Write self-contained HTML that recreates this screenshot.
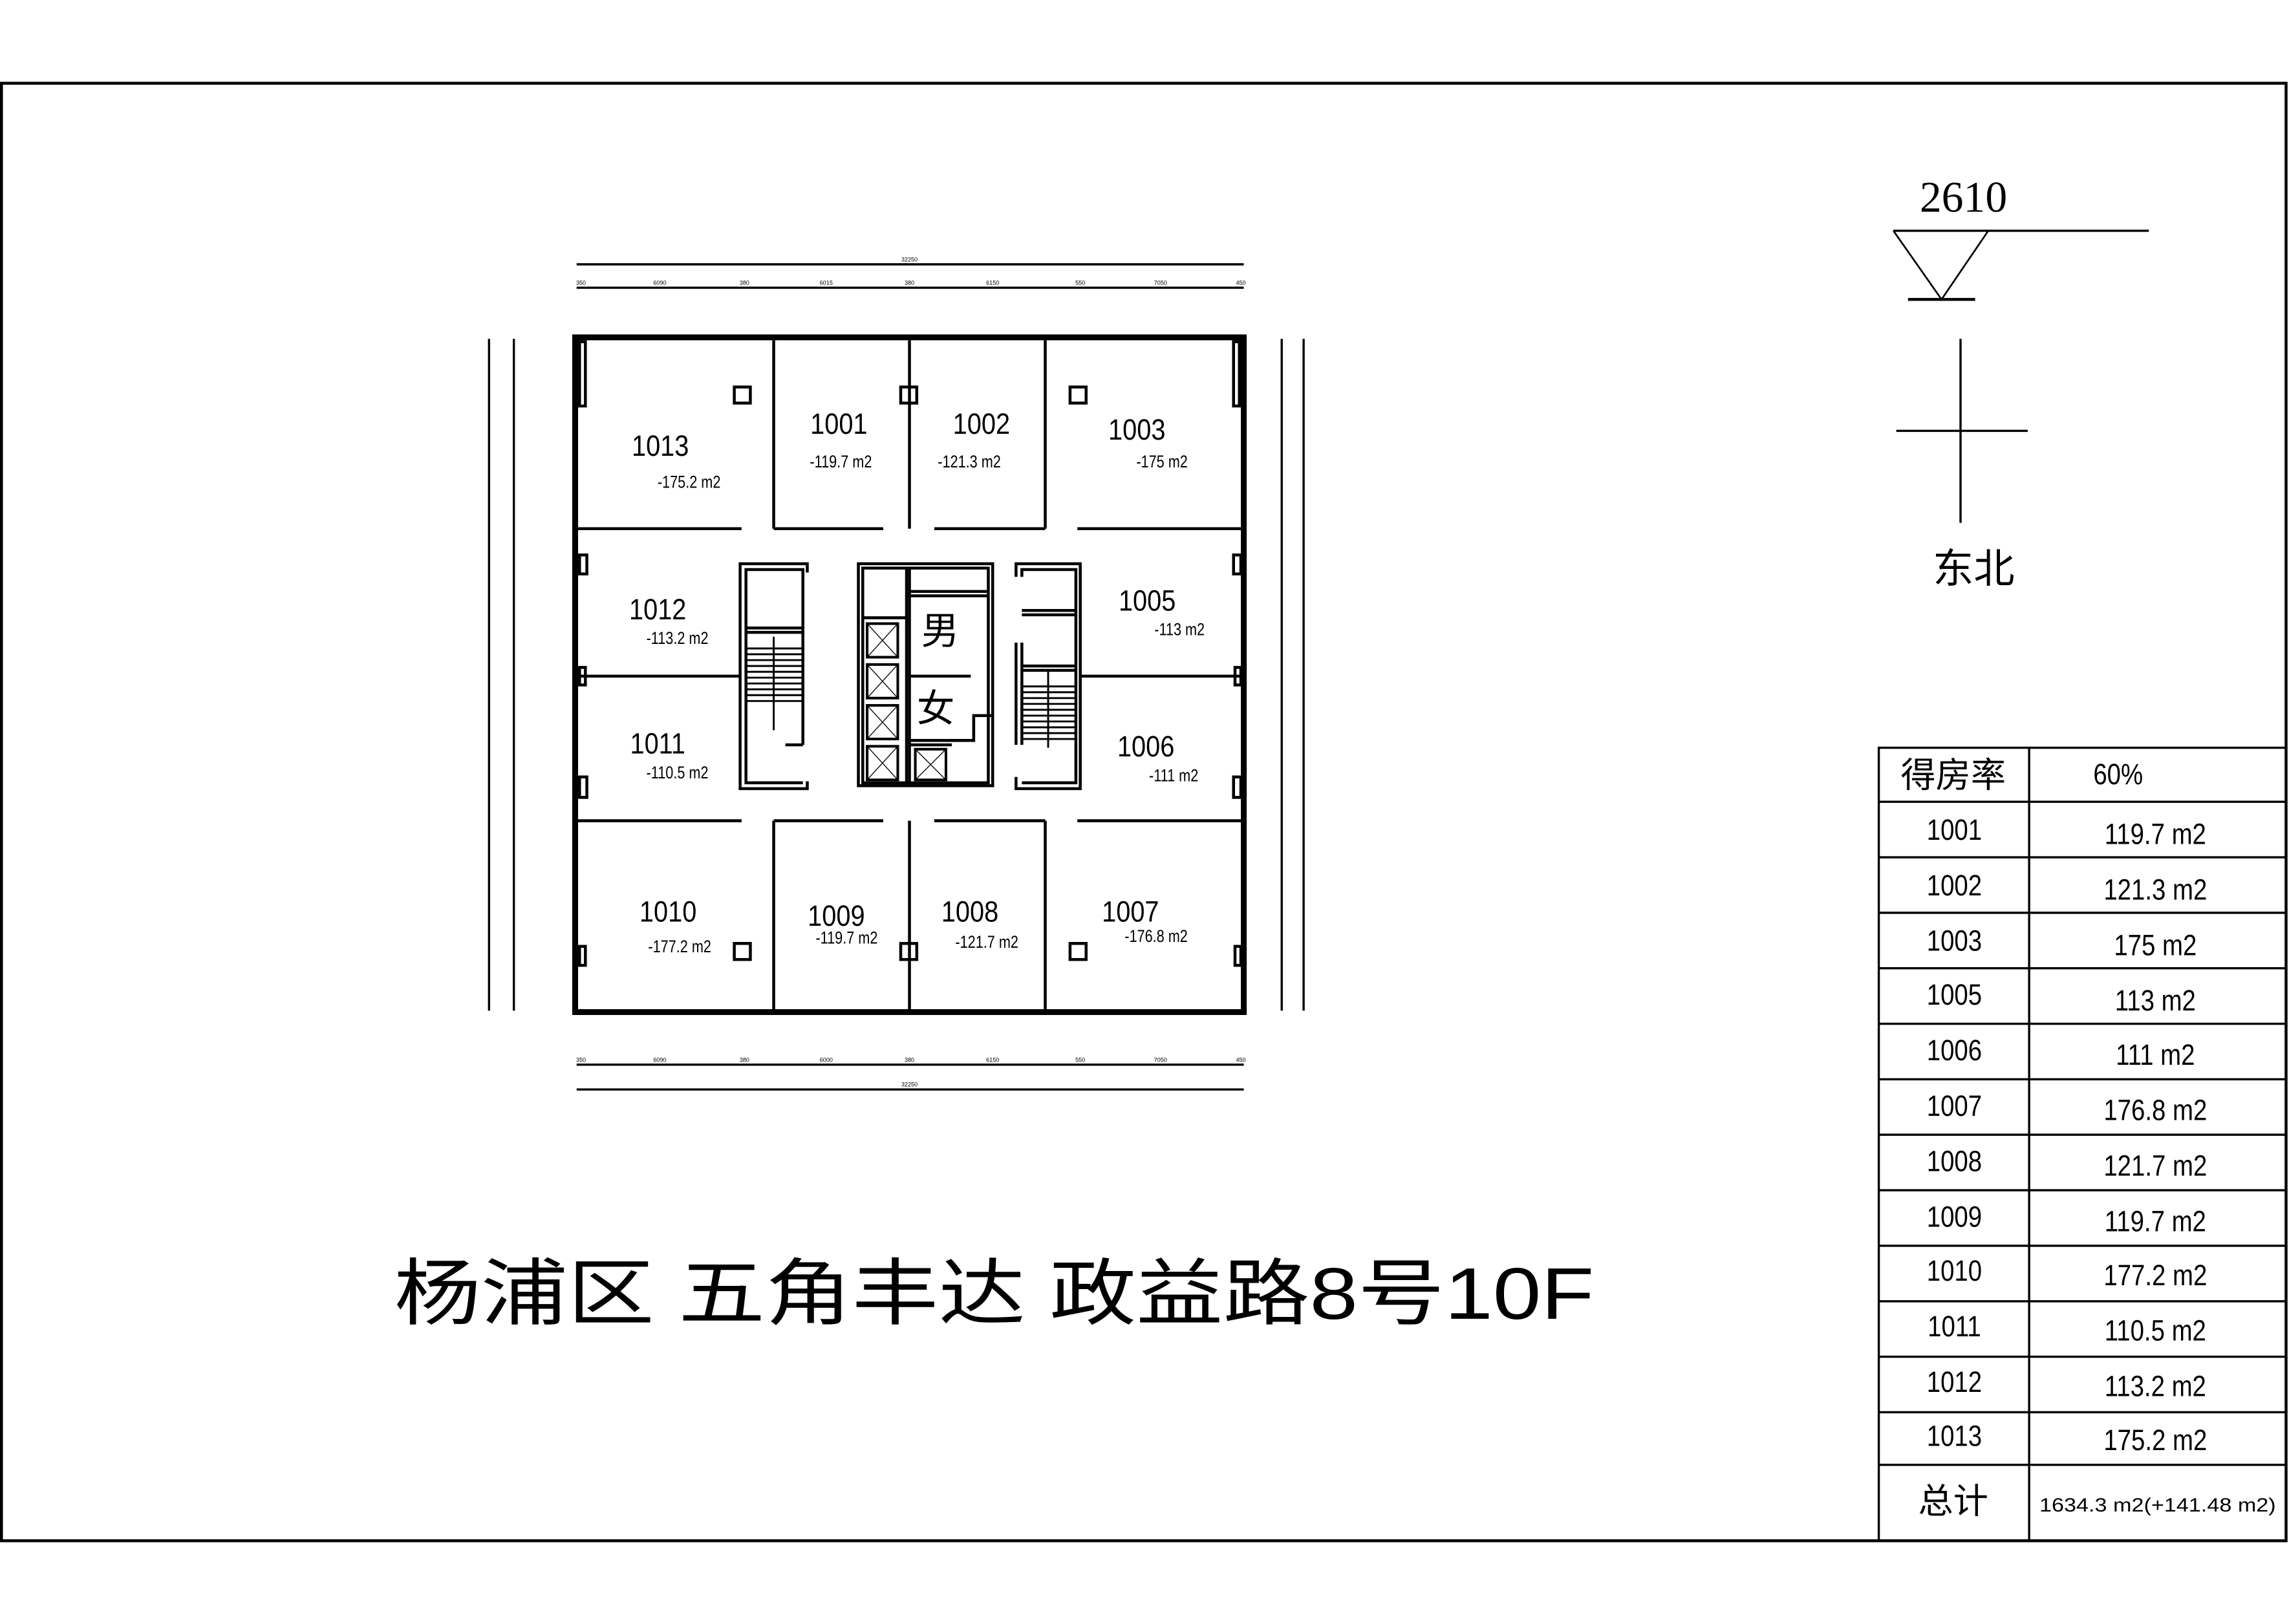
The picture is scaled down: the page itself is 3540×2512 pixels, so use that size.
<!DOCTYPE html>
<html><head><meta charset="utf-8"><style>
html,body{margin:0;padding:0;background:#fff;}
svg{display:block;}
text{font-family:"Liberation Sans","Noto Sans CJK SC",sans-serif;fill:#000;}
</style></head><body>
<svg width="3540" height="2512" viewBox="0 0 1568 1112" preserveAspectRatio="none" xmlns="http://www.w3.org/2000/svg">
<rect x="0" y="0" width="1568" height="1112" fill="#fff"/>
<!-- frame -->
<rect x="1" y="57" width="1565" height="998" fill="none" stroke="#000" stroke-width="2"/>

<!-- dimension lines -->
<g stroke="#000" fill="none">
<line x1="395" y1="181" x2="852" y2="181" stroke-width="1.5"/>
<line x1="395" y1="197" x2="852" y2="197" stroke-width="1.5"/>
<line x1="395" y1="729" x2="852" y2="729" stroke-width="1.5"/>
<line x1="395" y1="746" x2="852" y2="746" stroke-width="1.5"/>
<line x1="335" y1="232" x2="335" y2="692" stroke-width="1.5"/>
<line x1="352" y1="232" x2="352" y2="692" stroke-width="1.5"/>
<line x1="878" y1="232" x2="878" y2="692" stroke-width="1.5"/>
<line x1="893" y1="232" x2="893" y2="692" stroke-width="1.5"/>
</g>
<g font-size="4" text-anchor="middle">
<text x="623" y="179">32250</text><text x="623" y="744">32250</text>
<text x="398" y="195">350</text><text x="452" y="195">6090</text><text x="510" y="195">380</text><text x="566" y="195">6015</text><text x="623" y="195">380</text><text x="680" y="195">6150</text><text x="740" y="195">550</text><text x="795" y="195">7050</text><text x="850" y="195">450</text>
<text x="398" y="727">350</text><text x="452" y="727">6090</text><text x="510" y="727">380</text><text x="566" y="727">6000</text><text x="623" y="727">380</text><text x="680" y="727">6150</text><text x="740" y="727">550</text><text x="795" y="727">7050</text><text x="850" y="727">450</text>
</g>

<!-- floor plan outer -->
<rect x="394" y="231" width="458" height="462" fill="none" stroke="#000" stroke-width="4"/>
<g stroke="#000" stroke-width="2" fill="none">
<!-- window strips -->
<rect x="397" y="234" width="4" height="44"/>
<rect x="845" y="234" width="4" height="44"/>
<!-- top partitions -->
<line x1="530" y1="233" x2="530" y2="362"/>
<line x1="623" y1="233" x2="623" y2="362"/>
<line x1="716" y1="233" x2="716" y2="362"/>
<line x1="396" y1="362" x2="508" y2="362"/>
<line x1="530" y1="362" x2="605" y2="362"/>
<line x1="640" y1="362" x2="716" y2="362"/>
<line x1="738" y1="362" x2="850" y2="362"/>
<!-- bottom partitions -->
<line x1="530" y1="562" x2="530" y2="691"/>
<line x1="623" y1="562" x2="623" y2="691"/>
<line x1="716" y1="562" x2="716" y2="691"/>
<line x1="396" y1="562" x2="508" y2="562"/>
<line x1="530" y1="562" x2="605" y2="562"/>
<line x1="640" y1="562" x2="716" y2="562"/>
<line x1="738" y1="562" x2="850" y2="562"/>
<!-- middle walls -->
<line x1="396" y1="463" x2="507" y2="463"/>
<line x1="740" y1="463" x2="850" y2="463"/>
<!-- columns -->
<rect x="503" y="265" width="11" height="11"/>
<rect x="617" y="265" width="11" height="11"/>
<rect x="733" y="265" width="11" height="11"/>
<rect x="503" y="646" width="11" height="11"/>
<rect x="617" y="646" width="11" height="11"/>
<rect x="733" y="646" width="11" height="11"/>
<rect x="397" y="380" width="5" height="13"/>
<rect x="397" y="457" width="4" height="12"/>
<rect x="397" y="532" width="5" height="14"/>
<rect x="397" y="648" width="4" height="13"/>
<rect x="845" y="380" width="5" height="13"/>
<rect x="846" y="457" width="4" height="12"/>
<rect x="845" y="532" width="5" height="14"/>
<rect x="846" y="648" width="4" height="13"/>
<!-- left stair -->
<polyline points="553,392 553,386 507,386 507,540 553,540 553,535"/>
<polyline points="550,510 550,390 511,390 511,536 550,536"/>
<line x1="511" y1="433" x2="550" y2="433"/>
<line x1="511" y1="430" x2="550" y2="430"/>
<line x1="538" y1="510" x2="550" y2="510"/>
<!-- core -->
<rect x="588" y="386" width="92" height="152"/>
<rect x="591" y="389" width="86" height="147"/>
<line x1="621" y1="389" x2="621" y2="536"/>
<line x1="623" y1="389" x2="623" y2="536"/>
<line x1="623" y1="405" x2="677" y2="405"/>
<line x1="623" y1="408" x2="677" y2="408"/>
<line x1="591" y1="423" x2="621" y2="423"/>
<line x1="623" y1="463" x2="665" y2="463"/>
<polyline points="623,507 667,507 667,490 680,490"/>
<line x1="623" y1="510" x2="652" y2="510"/>
<!-- right stair -->
<polyline points="696,395 696,386 740,386 740,540 696,540 696,532"/>
<polyline points="700,395 700,390 737,390 737,536 700,536"/>
<line x1="700" y1="418" x2="737" y2="418"/>
<line x1="700" y1="421" x2="737" y2="421"/>
<line x1="700" y1="456" x2="737" y2="456"/>
<line x1="700" y1="459" x2="737" y2="459"/>
<line x1="696" y1="440" x2="696" y2="510"/>
<line x1="700" y1="440" x2="700" y2="510"/>
</g>
<!-- stairs treads -->
<g stroke="#000" stroke-width="1.3">
<line x1="511" y1="444" x2="550" y2="444"/><line x1="511" y1="448" x2="550" y2="448"/><line x1="511" y1="452" x2="550" y2="452"/><line x1="511" y1="456" x2="550" y2="456"/><line x1="511" y1="460" x2="550" y2="460"/><line x1="511" y1="464" x2="550" y2="464"/><line x1="511" y1="468" x2="550" y2="468"/><line x1="511" y1="472" x2="550" y2="472"/><line x1="511" y1="476" x2="550" y2="476"/><line x1="511" y1="480" x2="550" y2="480"/>
<line x1="530" y1="436" x2="530" y2="500"/>
<line x1="700" y1="470" x2="737" y2="470"/><line x1="700" y1="474" x2="737" y2="474"/><line x1="700" y1="478" x2="737" y2="478"/><line x1="700" y1="482" x2="737" y2="482"/><line x1="700" y1="486" x2="737" y2="486"/><line x1="700" y1="490" x2="737" y2="490"/><line x1="700" y1="494" x2="737" y2="494"/><line x1="700" y1="498" x2="737" y2="498"/><line x1="700" y1="502" x2="737" y2="502"/><line x1="700" y1="506" x2="737" y2="506"/>
<line x1="718" y1="458" x2="718" y2="512"/>
</g>
<!-- elevators -->
<g stroke="#000" fill="none">
<g stroke-width="1.8"><rect x="594" y="427" width="21" height="23"/><rect x="594" y="455" width="21" height="23"/><rect x="594" y="483" width="21" height="23"/><rect x="594" y="511" width="21" height="23"/><rect x="627" y="513" width="21" height="21"/></g>
<g stroke-width="0.6"><path d="M594 427L615 450M615 427L594 450M594 455L615 478M615 455L594 478M594 483L615 506M615 483L594 506M594 511L615 534M615 511L594 534M627 513L648 534M648 513L627 534"/></g>
</g>

<!-- room labels -->
<g font-size="20" text-anchor="middle" transform="scale(0.88,1)">
<text x="514" y="312">1013</text><text x="653" y="297">1001</text><text x="764" y="297">1002</text><text x="885" y="301">1003</text>
<text x="512" y="424">1012</text><text x="893" y="418">1005</text>
<text x="512" y="516">1011</text><text x="892" y="518">1006</text>
<text x="520" y="631">1010</text><text x="651" y="634">1009</text><text x="755" y="631">1008</text><text x="880" y="631">1007</text>
</g>
<g font-size="12" text-anchor="middle" transform="scale(0.8,1)">
<text x="590" y="334">-175.2 m2</text><text x="720" y="320">-119.7 m2</text><text x="830" y="320">-121.3 m2</text><text x="995" y="320">-175 m2</text>
<text x="580" y="441">-113.2 m2</text><text x="1010" y="435">-113 m2</text>
<text x="580" y="533">-110.5 m2</text><text x="1005" y="535">-111 m2</text>
<text x="582" y="652">-177.2 m2</text><text x="725" y="646">-119.7 m2</text><text x="845" y="649">-121.7 m2</text><text x="990" y="645">-176.8 m2</text>
</g>
<text x="644" y="441" font-size="26" text-anchor="middle">男</text>
<text x="641" y="494" font-size="26" text-anchor="middle">女</text>

<!-- north mark -->
<text x="1345" y="145" font-size="30" text-anchor="middle" style="font-family:'Liberation Serif',serif">2610</text>
<g stroke="#000" fill="none">
<line x1="1297" y1="158" x2="1472" y2="158" stroke-width="1.5"/>
<polyline points="1297,158 1330,205 1362,158" stroke-width="1.2"/>
<line x1="1307" y1="205" x2="1353" y2="205" stroke-width="2"/>
<line x1="1343" y1="232" x2="1343" y2="358" stroke-width="1.5"/>
<line x1="1299" y1="295" x2="1389" y2="295" stroke-width="1.5"/>
</g>
<text x="1352" y="399" font-size="28" text-anchor="middle">东北</text>

<!-- title -->
<text x="270" y="903" font-size="50" textLength="822" lengthAdjust="spacingAndGlyphs">杨浦区 五角丰达 政益路8号10F</text>

<!-- table -->
<g stroke="#000" stroke-width="1.5" fill="none">
<rect x="1287" y="512" width="279" height="543"/>
<line x1="1390" y1="512" x2="1390" y2="1055"/>
<line x1="1287" y1="549" x2="1566" y2="549"/><line x1="1287" y1="587" x2="1566" y2="587"/><line x1="1287" y1="625" x2="1566" y2="625"/><line x1="1287" y1="663" x2="1566" y2="663"/><line x1="1287" y1="701" x2="1566" y2="701"/><line x1="1287" y1="739" x2="1566" y2="739"/><line x1="1287" y1="777" x2="1566" y2="777"/><line x1="1287" y1="815" x2="1566" y2="815"/><line x1="1287" y1="853" x2="1566" y2="853"/><line x1="1287" y1="891" x2="1566" y2="891"/><line x1="1287" y1="929" x2="1566" y2="929"/><line x1="1287" y1="967" x2="1566" y2="967"/><line x1="1287" y1="1003" x2="1566" y2="1003"/>
</g>
<text x="1338" y="539" font-size="24" text-anchor="middle">得房率</text>
<text x="1338" y="1036" font-size="24" text-anchor="middle">总计</text>
<g font-size="20" text-anchor="middle" transform="scale(0.85,1)">
<text x="1707" y="537">60%</text>
<text x="1575" y="575">1001</text><text x="1575" y="613">1002</text><text x="1575" y="651">1003</text><text x="1575" y="688">1005</text><text x="1575" y="726">1006</text><text x="1575" y="764">1007</text><text x="1575" y="802">1008</text><text x="1575" y="840">1009</text><text x="1575" y="877">1010</text><text x="1575" y="915">1011</text><text x="1575" y="953">1012</text><text x="1575" y="990">1013</text>
<text x="1737" y="578">119.7 m2</text><text x="1737" y="616">121.3 m2</text><text x="1737" y="654">175 m2</text><text x="1737" y="692">113 m2</text><text x="1737" y="729">111 m2</text><text x="1737" y="767">176.8 m2</text><text x="1737" y="805">121.7 m2</text><text x="1737" y="843">119.7 m2</text><text x="1737" y="880">177.2 m2</text><text x="1737" y="918">110.5 m2</text><text x="1737" y="956">113.2 m2</text><text x="1737" y="993">175.2 m2</text>
</g>
<text x="1478" y="1035" font-size="13" text-anchor="middle" textLength="162" lengthAdjust="spacingAndGlyphs">1634.3 m2(+141.48 m2)</text>
</svg>
</body></html>
